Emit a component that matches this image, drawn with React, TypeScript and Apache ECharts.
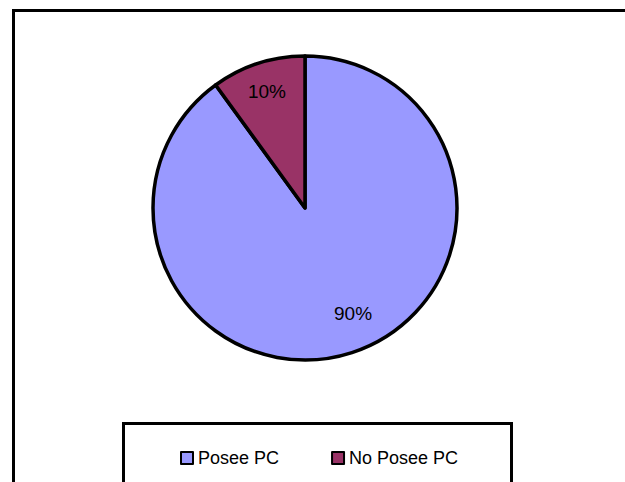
import React, { useEffect, useRef } from "react";
import * as echarts from "echarts";

const categories = ["Posee PC", "No Posee PC"];
const values = [90, 10];
const colors = ["#9999FF", "#993366"];

export default function App() {
  const ref = useRef<HTMLDivElement>(null);
  useEffect(() => {
    document.body.style.margin = "0";
    const chart = echarts.init(ref.current!, null, { renderer: "svg" });
    const data = categories.map((name, i) => ({
      name,
      value: values[i],
      itemStyle: { color: colors[i] },
    }));
    const labelOffsets = [[10, -11], [0, 0]];
    chart.setOption({
      animation: false,
      backgroundColor: "#fff",
      graphic: [
        {
          type: "rect",
          shape: { x: 13.5, y: 10.5, width: 700, height: 600 },
          style: { fill: "none", stroke: "#000", lineWidth: 3 },
          z: -1,
        },
        {
          type: "rect",
          shape: { x: 123.5, y: 423.5, width: 388, height: 100 },
          style: { fill: "#fff", stroke: "#000", lineWidth: 3 },
          z: -1,
        },
      ],
      legend: {
        data: categories,
        left: 175,
        top: 444,
        itemWidth: 12,
        itemHeight: 12,
        itemGap: 52,
        icon: "rect",
        itemStyle: { borderColor: "#000", borderWidth: 2 },
        textStyle: { fontFamily: "Liberation Sans", fontSize: 18, color: "#000" },
        selectedMode: false,
      },
      series: [
        {
          type: "pie",
          center: [305, 208],
          radius: [0, 152],
          startAngle: 90,
          clockwise: true,
          silent: true,
          label: { show: false },
          labelLine: { show: false },
          itemStyle: { borderColor: "#000", borderWidth: 3.5 },
          data,
        },
        {
          type: "pie",
          center: [305, 208],
          radius: [88, 152],
          startAngle: 90,
          clockwise: true,
          silent: true,
          legendHoverLink: false,
          itemStyle: { color: "transparent", borderWidth: 0 },
          label: {
            show: true,
            position: "inside",
            formatter: "{c}%",
            fontFamily: "Liberation Sans",
            fontSize: 19,
            color: "#000",
          },
          labelLine: { show: false },
          data: categories.map((name, i) => ({
            name: name + " ",
            value: values[i],
            label: { offset: labelOffsets[i] },
          })),
        },
      ],
    });
    return () => chart.dispose();
  }, []);
  return <div ref={ref} style={{ width: 625, height: 482 }} />;
}
